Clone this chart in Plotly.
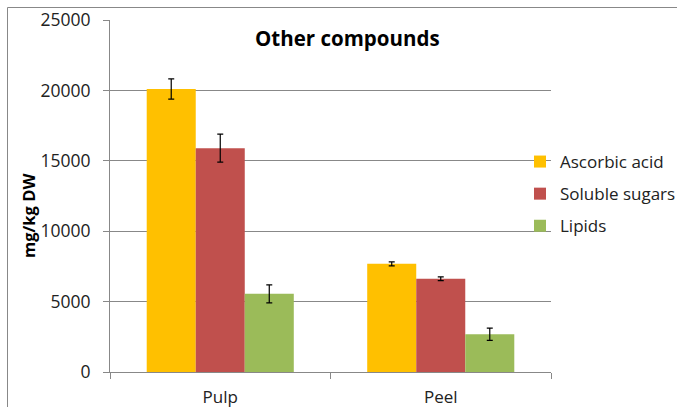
import plotly.graph_objects as go

categories = ["Pulp", "Peel"]
series_names = ["Ascorbic acid", "Soluble sugars", "Lipids"]
ascorbic = [20100, 7680]
ascorbic_err = [720, 140]
sugars = [15900, 6620]
sugars_err = [1000, 130]
lipids = [5550, 2680]
lipids_err = [640, 430]
colors = ["#FFC000", "#C0504D", "#9BBB59"]
y_ticks = [0, 5000, 10000, 15000, 20000, 25000]
y_ticktext = ["0", "5000", "10000", "15000", "20000", "25000"]

FONT = "Open Sans"
fig = go.Figure()
for i, (name, vals, errs) in enumerate(zip(series_names, [ascorbic, sugars, lipids],
                                           [ascorbic_err, sugars_err, lipids_err])):
    fig.add_trace(go.Bar(
        x=categories, y=vals, name=name, legendgroup=name,
        marker=dict(color=colors[i], line=dict(width=0)),
        error_y=dict(type="data", array=errs, visible=True, color="black",
                     thickness=1.2, width=3),
    ))

W, H = 677, 407
L, T = 110, 20
R = W - 551
B = H - 372
pw, ph = W - L - R, H - T - B


def px(x):
    return (x - L) / pw


def py(y):
    return 1 - (y - T) / ph


fig.update_layout(
    width=W, height=H,
    margin=dict(l=L, r=R, t=T, b=B, autoexpand=False),
    paper_bgcolor="white", plot_bgcolor="white",
    barmode="group", bargap=0.333, bargroupgap=0,
    font=dict(family=FONT, size=17, color="#222"),
    legend=dict(x=px(520), xanchor="left", y=py(144), yanchor="top",
                traceorder="grouped", tracegroupgap=7,
                font=dict(family=FONT, size=17, color="#222"),
                bgcolor="rgba(0,0,0,0)"),
    xaxis=dict(showline=True, linecolor="#888", linewidth=1,
               ticks="outside", tickson="boundaries", ticklen=6, tickcolor="#888",
               showgrid=False, ticklabelstandoff=10,
               tickfont=dict(family=FONT, size=17, color="#222")),
    yaxis=dict(range=[0, 25000], tickvals=y_ticks, ticktext=y_ticktext,
               showline=True, linecolor="#888",
               linewidth=1, ticks="outside", ticklen=6, tickcolor="#888",
               showgrid=True, gridcolor="#888", gridwidth=1, zeroline=False,
               ticklabelstandoff=9,
               tickfont=dict(family=FONT, size=17.5, color="#222")),
    annotations=[
        dict(text="<b>Other compounds</b>", x=px(347), y=py(38),
             xanchor="center", yanchor="middle",
             xref="paper", yref="paper", showarrow=False,
             font=dict(family=FONT, size=20.5, color="black")),
        dict(text="<b>mg/kg DW</b>", x=px(29), y=py(216),
             xanchor="center", yanchor="middle",
             xref="paper", yref="paper", showarrow=False, textangle=-90,
             font=dict(family=FONT, size=16.5, color="black")),
    ],
    shapes=[
        dict(type="path", xref="paper", yref="paper",
             path=f"M {px(7.5)} {py(410)} L {px(7.5)} {py(7.5)} L {px(680)} {py(7.5)}",
             line=dict(color="#888", width=1)),
    ],
)

fig.write_html(
    "out.html",
    config={"displayModeBar": False},
    post_script="document.body.style.margin='0';document.body.style.overflow='hidden';",
)
